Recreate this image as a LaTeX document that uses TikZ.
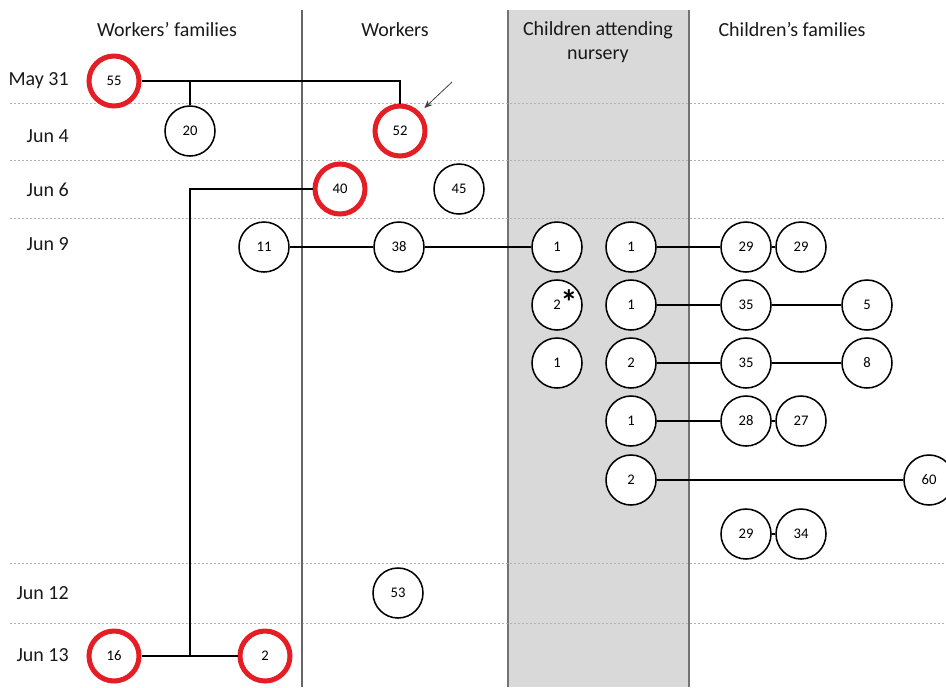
\documentclass[tikz,border=0pt]{standalone}
\usepackage{fontspec}
\setmainfont{Carlito}
\usetikzlibrary{arrows.meta}
\definecolor{redc}{RGB}{228,30,36}
\definecolor{boxgray}{RGB}{217,217,217}
\begin{document}
\begin{tikzpicture}[x=0.75pt,y=-0.75pt,
  circ/.style={circle, draw, line width=1.15pt, fill=white, minimum size=37.5pt, inner sep=0pt, font=\fontsize{11}{12}\selectfont},
  redcirc/.style={circ, draw=redc, line width=3.75pt},
  conn/.style={line width=1.5pt},
  hdr/.style={font=\fontsize{15}{18}\selectfont, text=black!90, align=center},
  datelbl/.style={hdr, anchor=east, inner sep=0pt},
  gridline/.style={black!30, dash pattern=on 1.5pt off 1.5pt, line width=0.6pt}]
\useasboundingbox (0,0) rectangle (946,687);
% nursery band
\fill[boxgray] (508,10) rectangle (689,687);
\draw[black!55, line width=0.8pt] (508,10) -- (508,687) (689,10) -- (689,687);
% date separators
\foreach \yy in {103,160,218,563,623}
  \draw[gridline] (10,\yy) -- (946,\yy);
% column separator
\draw[black!60, line width=0.8pt] (302,10) -- (302,687);
% headers
\node[hdr] (h1) at (167,30) {Workers’ families};
\node[hdr] (h2) at (395,30) {Workers};
\node[hdr] (h3) at (598,42) {Children attending\\nursery};
\node[hdr] (h4) at (792,30) {Children’s families};
% dates
\node[datelbl] (d1) at (69,81) {May 31};
\node[datelbl] (d2) at (69,136) {Jun 4};
\node[datelbl] (d3) at (69,190) {Jun 6};
\node[datelbl] (d4) at (69,244) {Jun 9};
\node[datelbl] (d5) at (69,593) {Jun 12};
\node[datelbl] (d6) at (69,655) {Jun 13};
% coordinates
\coordinate (j) at (190,656);
\coordinate (arrstart) at (452,82);
% nodes
\node[redcirc] (n55) at (114,81) {55};
\node[circ] (n20) at (190,131) {20};
\node[redcirc] (n52) at (400,131) {52};
\node[redcirc] (n40) at (340,189) {40};
\node[circ] (n45) at (459,189) {45};
\node[circ] (n11) at (264,247) {11};
\node[circ] (n38) at (399,247) {38};
\node[circ] (c1) at (557,247) {1};
\node[circ] (c2) at (557,305) {2};
\node[font=\bfseries\fontsize{26}{26}\selectfont, inner sep=0pt] (ast) at (569,302) {*};
\node[circ] (c3) at (557,363) {1};
\node[circ] (k1) at (631,247) {1};
\node[circ] (k2) at (631,305) {1};
\node[circ] (k3) at (631,363) {2};
\node[circ] (k4) at (631,421) {1};
\node[circ] (k5) at (631,480) {2};
\node[circ] (f1a) at (746,247) {29};
\node[circ] (f1b) at (801,247) {29};
\node[circ] (f2a) at (746,305) {35};
\node[circ] (f2b) at (867,305) {5};
\node[circ] (f3a) at (746,363) {35};
\node[circ] (f3b) at (867,363) {8};
\node[circ] (f4a) at (746,421) {28};
\node[circ] (f4b) at (801,421) {27};
\node[circ] (f5) at (929,480) {60};
\node[circ] (f6a) at (746,534) {29};
\node[circ] (f6b) at (801,534) {34};
\node[circ] (n53) at (398,593) {53};
\node[redcirc] (n16) at (114,656) {16};
\node[redcirc] (n2) at (265,656) {2};
% connectors
\draw[conn] (n55) -| (n52);
\draw[conn] (n20) -- (n20 |- n55);
\draw[conn] (n40) -| (j);
\draw[conn] (n16) -- (n2);
\draw[conn] (n11) -- (n38);
\draw[conn] (n38) -- (c1);
\draw[conn] (k1) -- (f1a);
\draw[conn] (f1a) -- (f1b);
\draw[conn] (k2) -- (f2a);
\draw[conn] (f2a) -- (f2b);
\draw[conn] (k3) -- (f3a);
\draw[conn] (f3a) -- (f3b);
\draw[conn] (k4) -- (f4a);
\draw[conn] (f4a) -- (f4b);
\draw[conn] (k5) -- (f5);
\draw[conn] (f6a) -- (f6b);
\draw[black!75, line width=0.6pt, -{Stealth[length=6pt,width=5pt]}, shorten >=4.5pt] (arrstart) -- (n52);
\end{tikzpicture}
\end{document}
